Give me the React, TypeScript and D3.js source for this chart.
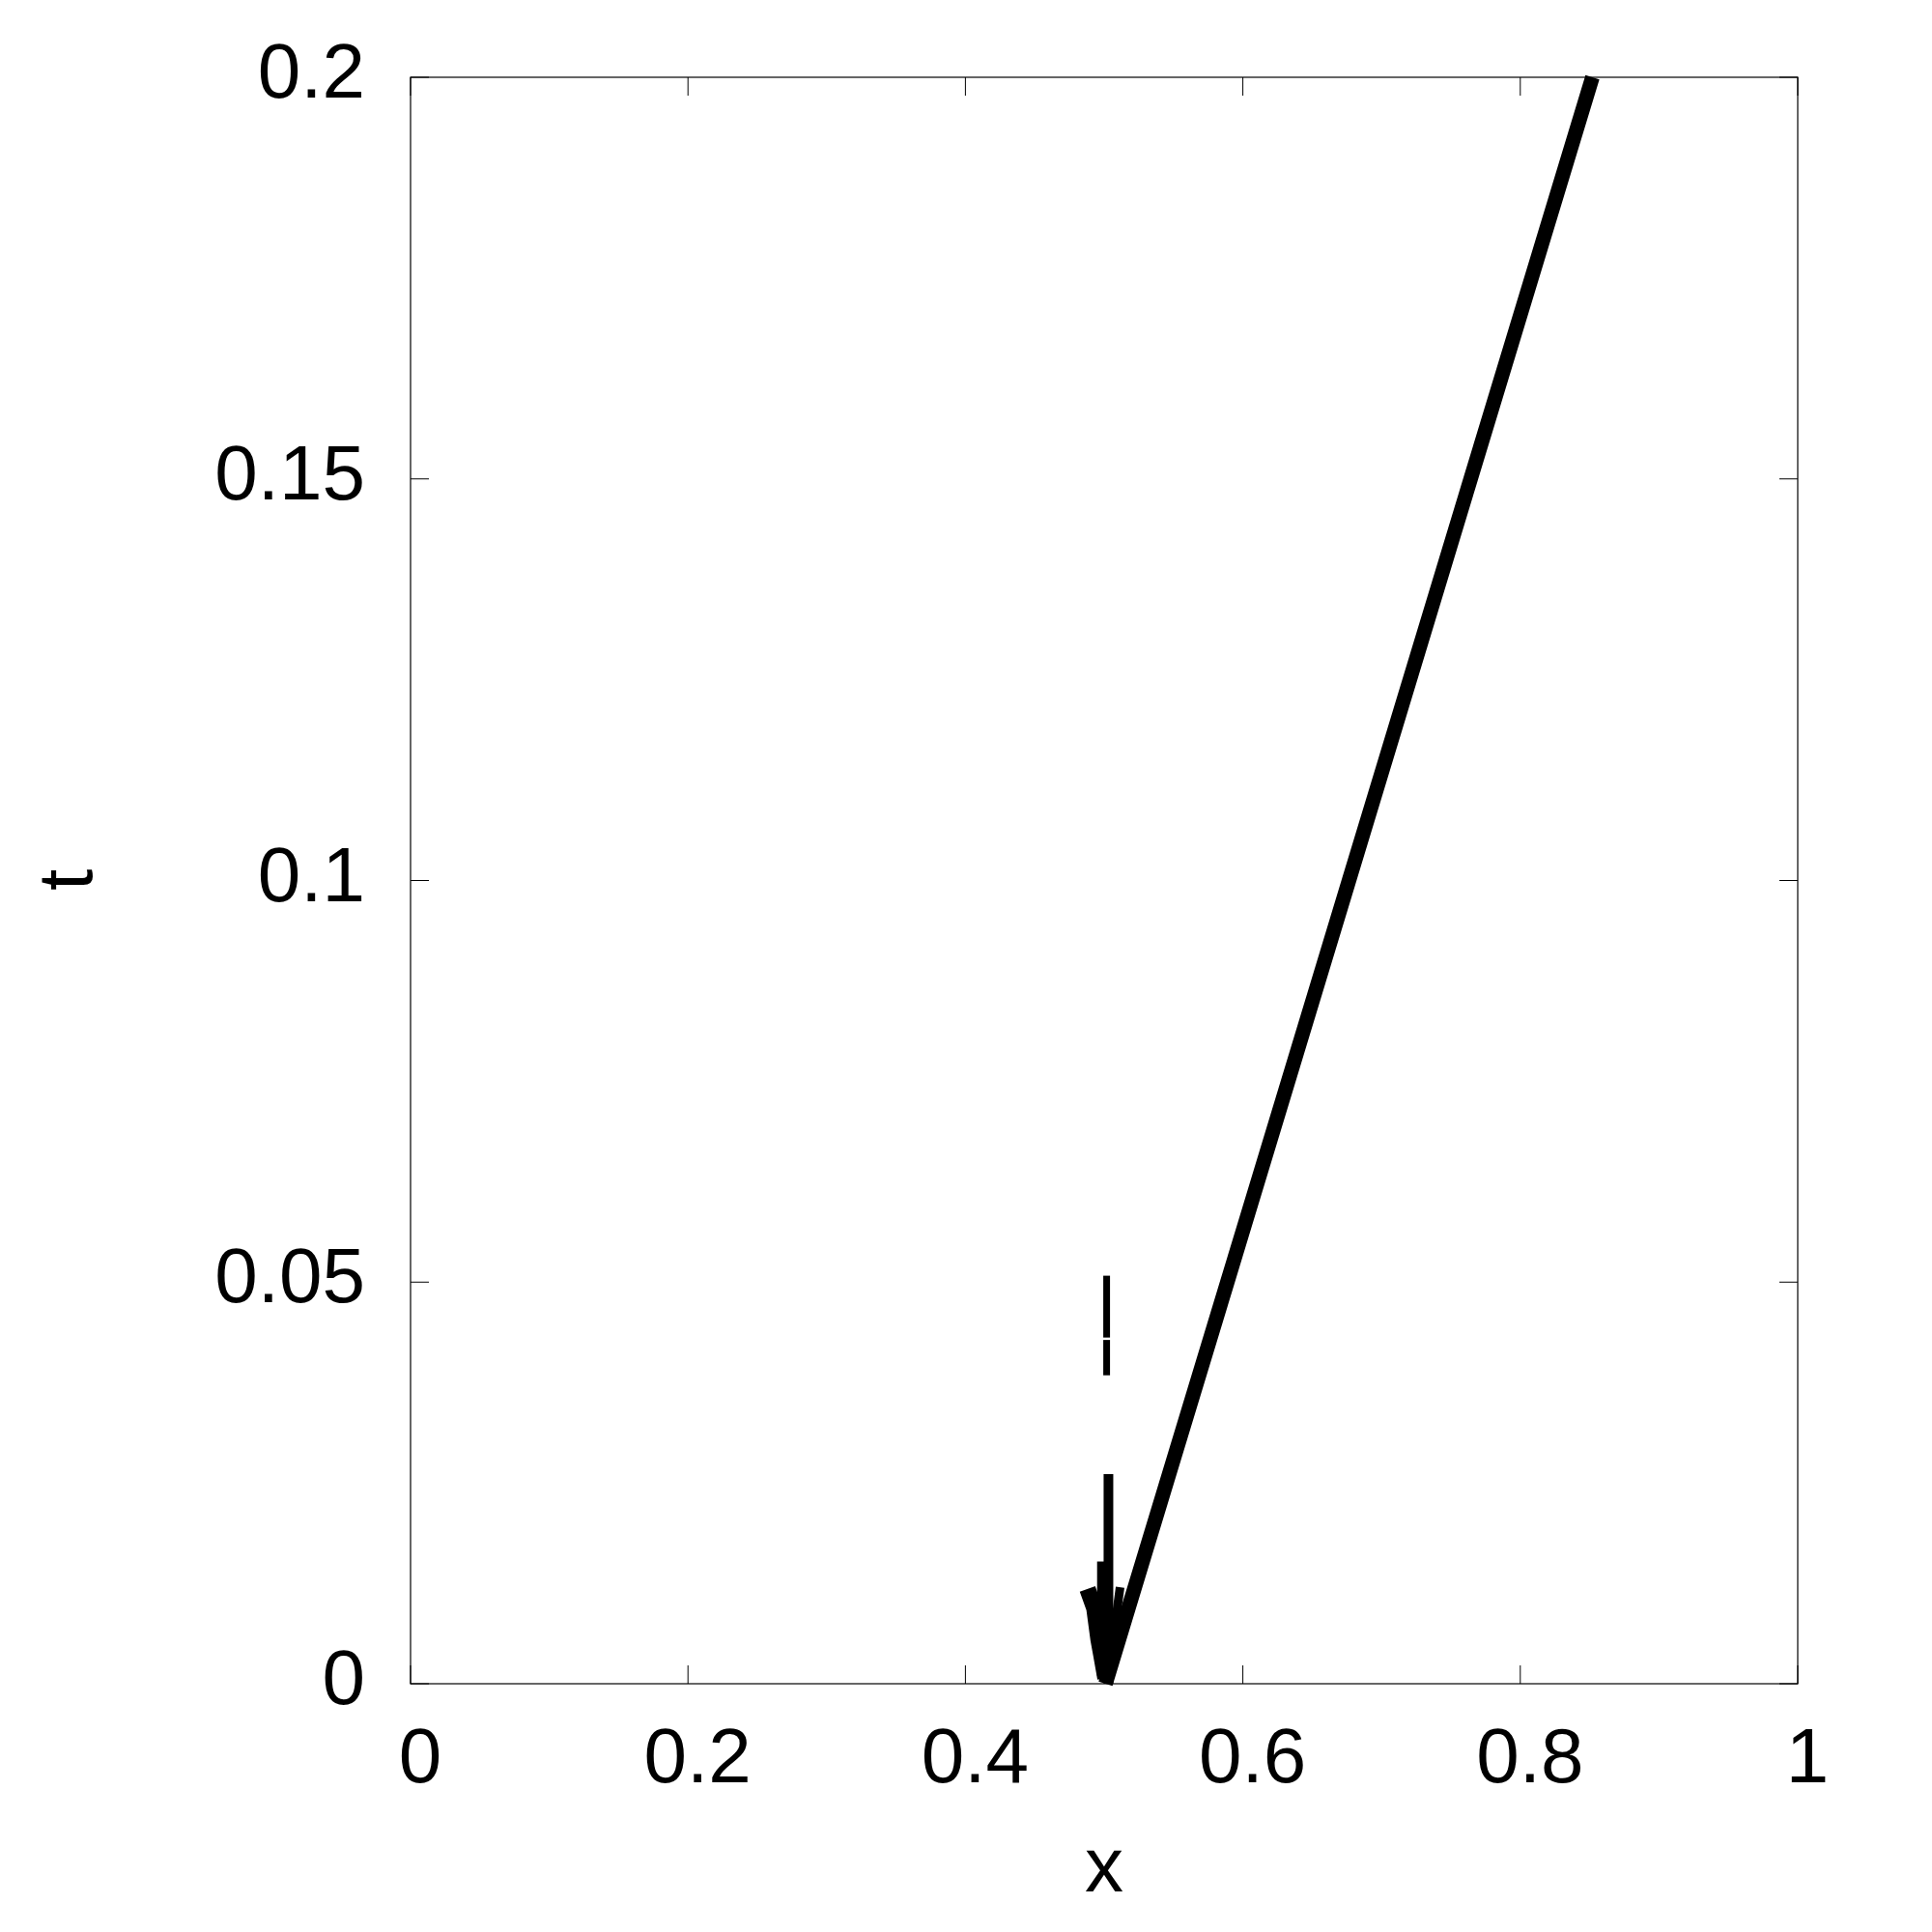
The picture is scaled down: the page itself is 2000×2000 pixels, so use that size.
import React from "react";
import * as d3 from "d3";

// shock front position x(t)
const frontT = [0, 0.05, 0.1, 0.15, 0.2];
const frontX = [0.501, 0.5888, 0.6765, 0.7642, 0.852];

// contact near x = 0.5
const stemLowT = [0, 0.0261];
const stemLowX = [0.5031, 0.5031];
const stemBaseT = [0.001, 0.0152];
const stemBaseX = [0.5005, 0.5005];
const stemUpT1 = [0.0384, 0.0428];
const stemUpT2 = [0.0431, 0.0508];
const stemUpX = [0.5018, 0.5018];

// left / right arms of the start-up wedge
const leftArmT = [0.0118, 0.0094, 0.0055, 0.0036, 0.0007];
const leftArmX = [0.488, 0.493, 0.496, 0.498, 0.501];
const rightArmT = [0.012, 0.0088, 0.0052];
const rightArmX = [0.5115, 0.509, 0.506];

const xTicks = [0, 0.2, 0.4, 0.6, 0.8, 1];
const xTickLabels = ["0", "0.2", "0.4", "0.6", "0.8", "1"];
const yTicks = [0, 0.05, 0.1, 0.15, 0.2];
const yTickLabels = ["0", "0.05", "0.1", "0.15", "0.2"];

const series = [
  { x: frontX, t: frontT, w: 15 },
  { x: stemLowX, t: stemLowT, w: 10 },
  { x: stemBaseX, t: stemBaseT, w: 16 },
  { x: stemUpX, t: stemUpT1, w: 7 },
  { x: stemUpX, t: stemUpT2, w: 7 },
  { x: leftArmX, t: leftArmT, w: 17 },
  { x: rightArmX, t: rightArmT, w: 9 },
];

export default function App() {
  const left = 425, right = 1861, top = 80, bottom = 1743;
  const x = d3.scaleLinear().domain([0, 1]).range([left, right]);
  const y = d3.scaleLinear().domain([0, 0.2]).range([bottom, top]);
  const tickLen = 19;
  const font = "'Liberation Sans', Arial, sans-serif";

  const line = d3
    .line<[number, number]>()
    .x((d) => x(d[0]))
    .y((d) => y(d[1]));

  return (
    <svg
      width={2000}
      height={2000}
      style={{ position: "absolute", left: 0, top: 0, background: "#fff" }}
      fontFamily={font}
    >
      <rect x={0} y={0} width={2000} height={2000} fill="#fff" />

      {series.map((s, i) => (
        <path
          key={i}
          d={line(s.x.map((v, j) => [v, s.t[j]] as [number, number])) || ""}
          fill="none"
          stroke="#000"
          strokeWidth={s.w}
          strokeLinecap="butt"
          strokeLinejoin="miter"
        />
      ))}

      <rect
        x={left}
        y={top}
        width={right - left}
        height={bottom - top}
        fill="none"
        stroke="#000"
        strokeWidth={1.2}
      />

      {xTicks.map((v, i) => (
        <g key={"x" + i}>
          <line x1={x(v)} x2={x(v)} y1={bottom} y2={bottom - tickLen} stroke="#000" strokeWidth={1} />
          <line x1={x(v)} x2={x(v)} y1={top} y2={top + tickLen} stroke="#000" strokeWidth={1} />
          <text x={x(v) + 10} y={bottom + 102} fontSize={80} textAnchor="middle">
            {xTickLabels[i]}
          </text>
        </g>
      ))}

      {yTicks.map((v, i) => (
        <g key={"y" + i}>
          <line x1={left} x2={left + tickLen} y1={y(v)} y2={y(v)} stroke="#000" strokeWidth={1} />
          <line x1={right} x2={right - tickLen} y1={y(v)} y2={y(v)} stroke="#000" strokeWidth={1} />
          <text x={378} y={y(v) + 21} fontSize={80} textAnchor="end">
            {yTickLabels[i]}
          </text>
        </g>
      ))}

      <text x={1143} y={1958} fontSize={80} textAnchor="middle">
        x
      </text>
      <text transform="translate(95,911) rotate(-90)" fontSize={80} textAnchor="middle">
        t
      </text>
    </svg>
  );
}
